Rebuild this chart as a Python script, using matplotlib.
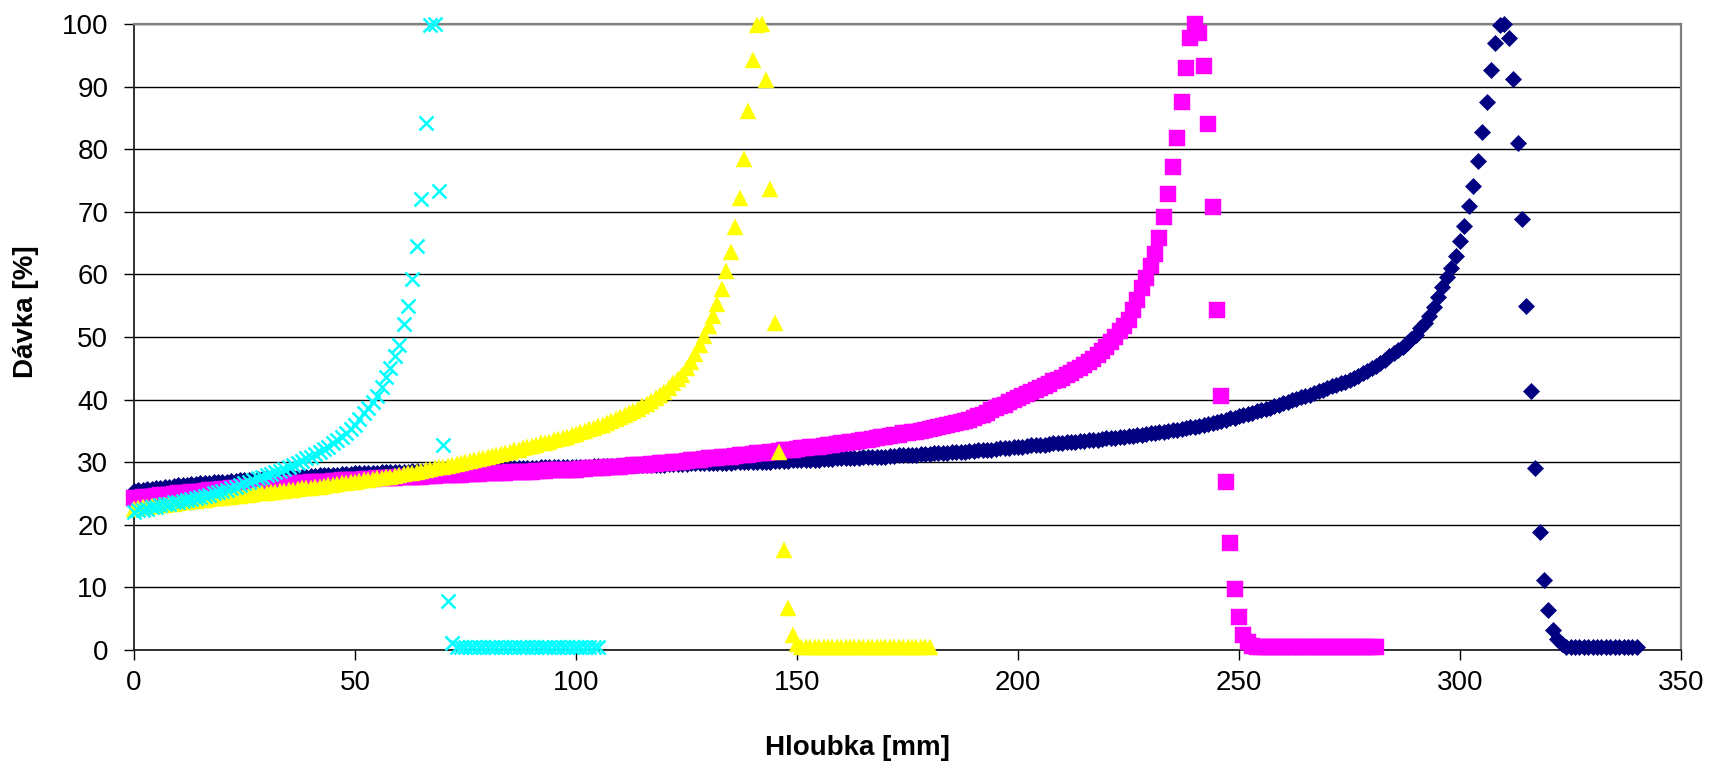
import numpy as np
import matplotlib
matplotlib.use("Agg")
import matplotlib.pyplot as plt

# ---------------- data (dose [%] every 1 mm of depth) -------------
depth_step_mm = 1.0

navy_dose = [
    25.4, 25.5, 25.6, 25.7, 25.7, 25.8, 25.9, 26.0, 26.1, 26.2, 26.3,
    26.3, 26.4, 26.5, 26.5, 26.6, 26.7, 26.7, 26.8, 26.8, 26.9,
    26.9, 27.0, 27.0, 27.1, 27.1, 27.2, 27.2, 27.3, 27.3, 27.4,
    27.4, 27.5, 27.5, 27.5, 27.6, 27.6, 27.7, 27.7, 27.7, 27.8,
    27.8, 27.9, 27.9, 27.9, 28.0, 28.0, 28.1, 28.1, 28.1, 28.2,
    28.2, 28.2, 28.3, 28.3, 28.3, 28.4, 28.4, 28.4, 28.5, 28.5,
    28.5, 28.5, 28.6, 28.6, 28.6, 28.6, 28.7, 28.7, 28.7, 28.7,
    28.7, 28.8, 28.8, 28.8, 28.8, 28.8, 28.9, 28.9, 28.9, 28.9,
    28.9, 29.0, 29.0, 29.0, 29.0, 29.0, 29.1, 29.1, 29.1, 29.1,
    29.1, 29.2, 29.2, 29.2, 29.2, 29.2, 29.3, 29.3, 29.3, 29.3,
    29.3, 29.3, 29.3, 29.4, 29.4, 29.4, 29.4, 29.4, 29.4, 29.4,
    29.5, 29.5, 29.5, 29.5, 29.5, 29.6, 29.6, 29.6, 29.6, 29.6,
    29.7, 29.7, 29.7, 29.7, 29.7, 29.8, 29.8, 29.8, 29.8, 29.8,
    29.9, 29.9, 29.9, 29.9, 29.9, 30.0, 30.0, 30.0, 30.0, 30.0,
    30.1, 30.1, 30.1, 30.1, 30.2, 30.2, 30.2, 30.2, 30.3, 30.3,
    30.3, 30.3, 30.4, 30.4, 30.4, 30.5, 30.5, 30.5, 30.6, 30.6,
    30.6, 30.7, 30.7, 30.7, 30.8, 30.8, 30.8, 30.9, 30.9, 30.9,
    31.0, 31.0, 31.1, 31.1, 31.1, 31.2, 31.2, 31.3, 31.3, 31.3,
    31.4, 31.4, 31.5, 31.5, 31.6, 31.6, 31.7, 31.7, 31.8, 31.8,
    31.9, 31.9, 32.0, 32.0, 32.1, 32.2, 32.2, 32.3, 32.4, 32.5,
    32.5, 32.6, 32.7, 32.7, 32.8, 32.8, 32.9, 33.0, 33.0, 33.1,
    33.2, 33.2, 33.3, 33.4, 33.4, 33.5, 33.6, 33.6, 33.7, 33.8,
    33.9, 33.9, 34.0, 34.1, 34.2, 34.2, 34.3, 34.4, 34.5, 34.6,
    34.7, 34.8, 34.9, 35.0, 35.1, 35.2, 35.3, 35.4, 35.6, 35.7,
    35.8, 36.0, 36.1, 36.3, 36.5, 36.6, 36.8, 37.0, 37.1, 37.3,
    37.5, 37.7, 37.9, 38.1, 38.3, 38.5, 38.7, 39.0, 39.2, 39.4,
    39.6, 39.9, 40.1, 40.4, 40.6, 40.8, 41.1, 41.3, 41.6, 41.8,
    42.1, 42.3, 42.6, 42.8, 43.1, 43.4, 43.8, 44.2, 44.6, 45.0,
    45.4, 45.9, 46.4, 46.9, 47.4, 47.9, 48.4, 49.0, 49.6, 50.3,
    51.4, 52.3, 53.4, 54.8, 56.4, 58.0, 59.6, 61.1, 62.9, 65.4,
    67.8, 70.9, 74.2, 78.1, 82.8, 87.5, 92.7, 96.9, 99.8, 100.0,
    97.7, 91.2, 81.0, 68.8, 55.0, 41.4, 29.0, 18.8, 11.2, 6.4,
    3.2, 1.8, 1.0, 0.5, 0.4, 0.4, 0.4, 0.4, 0.4, 0.4,
    0.4, 0.4, 0.4, 0.4, 0.4, 0.4, 0.4, 0.4, 0.4, 0.4,
]

magenta_dose = [
    24.2, 24.3, 24.4, 24.4, 24.5, 24.6, 24.7, 24.8, 24.8, 24.9, 25.0,
    25.1, 25.1, 25.2, 25.3, 25.3, 25.4, 25.5, 25.5, 25.6, 25.7,
    25.7, 25.8, 25.8, 25.9, 26.0, 26.0, 26.1, 26.1, 26.2, 26.3,
    26.3, 26.4, 26.4, 26.5, 26.5, 26.6, 26.6, 26.7, 26.7, 26.8,
    26.8, 26.8, 26.9, 26.9, 27.0, 27.0, 27.1, 27.1, 27.1, 27.2,
    27.2, 27.3, 27.3, 27.3, 27.4, 27.4, 27.5, 27.5, 27.5, 27.6,
    27.6, 27.6, 27.7, 27.7, 27.7, 27.8, 27.8, 27.8, 27.9, 27.9,
    27.9, 28.0, 28.0, 28.0, 28.1, 28.1, 28.1, 28.1, 28.2, 28.2,
    28.2, 28.3, 28.3, 28.3, 28.4, 28.4, 28.4, 28.5, 28.5, 28.5,
    28.6, 28.6, 28.6, 28.7, 28.7, 28.7, 28.7, 28.8, 28.8, 28.8,
    28.9, 28.9, 29.0, 29.0, 29.1, 29.1, 29.2, 29.2, 29.3, 29.3,
    29.4, 29.4, 29.5, 29.5, 29.6, 29.6, 29.7, 29.7, 29.8, 29.9,
    29.9, 30.0, 30.1, 30.1, 30.2, 30.3, 30.3, 30.4, 30.5, 30.6,
    30.6, 30.7, 30.8, 30.8, 30.9, 31.0, 31.1, 31.1, 31.2, 31.3,
    31.4, 31.5, 31.5, 31.6, 31.7, 31.8, 31.9, 31.9, 32.0, 32.1,
    32.2, 32.3, 32.4, 32.5, 32.5, 32.6, 32.7, 32.8, 32.9, 33.0,
    33.1, 33.2, 33.3, 33.4, 33.5, 33.6, 33.7, 33.8, 34.0, 34.1,
    34.2, 34.3, 34.4, 34.6, 34.7, 34.8, 34.9, 35.0, 35.2, 35.3,
    35.5, 35.6, 35.8, 35.9, 36.1, 36.3, 36.4, 36.6, 36.8, 37.0,
    37.3, 37.6, 37.9, 38.3, 38.6, 38.9, 39.2, 39.6, 39.9, 40.2,
    40.5, 40.9, 41.2, 41.6, 41.9, 42.2, 42.5, 42.9, 43.2, 43.5,
    43.9, 44.3, 44.7, 45.1, 45.5, 46.0, 46.5, 47.1, 47.7, 48.4,
    49.2, 50.0, 50.9, 51.8, 52.7, 54.3, 55.9, 57.8, 59.4, 61.3,
    63.3, 65.8, 69.1, 72.8, 77.1, 81.8, 87.6, 93.0, 97.7, 100.0,
    98.5, 93.3, 84.0, 70.8, 54.3, 40.5, 26.8, 17.1, 9.7, 5.2,
    2.4, 1.2, 0.7, 0.4, 0.4, 0.4, 0.4, 0.4, 0.4, 0.4,
    0.4, 0.4, 0.4, 0.4, 0.4, 0.4, 0.4, 0.4, 0.4, 0.4,
    0.4, 0.4, 0.4, 0.4, 0.4, 0.4, 0.4, 0.4, 0.4, 0.4, 0.4,
]

yellow_dose = [
    22.6, 22.7, 22.8, 22.9, 23.0, 23.0, 23.1, 23.2, 23.3, 23.4, 23.5,
    23.6, 23.7, 23.8, 23.8, 23.9, 24.0, 24.1, 24.2, 24.2, 24.3,
    24.4, 24.5, 24.6, 24.6, 24.7, 24.8, 24.9, 25.0, 25.0, 25.1,
    25.2, 25.3, 25.4, 25.4, 25.5, 25.6, 25.7, 25.8, 25.8, 25.9,
    26.0, 26.1, 26.2, 26.3, 26.4, 26.5, 26.6, 26.7, 26.8, 26.9,
    27.0, 27.1, 27.2, 27.3, 27.4, 27.5, 27.6, 27.7, 27.8, 28.0,
    28.1, 28.2, 28.3, 28.5, 28.6, 28.7, 28.9, 29.0, 29.2, 29.3,
    29.4, 29.6, 29.7, 29.9, 30.0, 30.2, 30.3, 30.5, 30.6, 30.8,
    31.0, 31.2, 31.3, 31.5, 31.7, 31.9, 32.0, 32.2, 32.4, 32.6,
    32.8, 33.0, 33.1, 33.3, 33.5, 33.7, 33.9, 34.1, 34.3, 34.5,
    34.8, 35.0, 35.3, 35.5, 35.8, 36.0, 36.3, 36.6, 36.9, 37.2,
    37.5, 37.8, 38.2, 38.5, 38.9, 39.3, 39.7, 40.2, 40.7, 41.2,
    41.9, 42.6, 43.3, 44.0, 45.0, 46.0, 47.3, 48.8, 50.2, 51.8,
    53.4, 55.3, 57.6, 60.5, 63.6, 67.5, 72.2, 78.4, 86.1, 94.2,
    99.8, 100.0, 91.1, 73.6, 52.2, 31.7, 16.0, 6.7, 2.4, 0.9,
    0.4, 0.4, 0.4, 0.4, 0.4, 0.4, 0.4, 0.4, 0.4, 0.4,
    0.4, 0.4, 0.4, 0.4, 0.4, 0.4, 0.4, 0.4, 0.4, 0.4,
    0.4, 0.4, 0.4, 0.4, 0.4, 0.4, 0.4, 0.4, 0.4, 0.4,
]

cyan_dose = [
    22.1, 22.3, 22.4, 22.6, 22.8, 22.9, 23.1, 23.3, 23.4, 23.6, 23.7,
    23.8, 24.0, 24.1, 24.2, 24.4, 24.6, 24.8, 25.0, 25.2, 25.4,
    25.6, 25.9, 26.1, 26.4, 26.6, 26.9, 27.2, 27.4, 27.7, 27.9,
    28.1, 28.4, 28.6, 28.9, 29.2, 29.5, 29.9, 30.2, 30.6, 30.9,
    31.3, 31.7, 32.1, 32.5, 33.0, 33.5, 34.0, 34.6, 35.3, 35.9,
    36.9, 37.8, 38.7, 39.6, 40.6, 42.0, 43.6, 45.0, 46.9, 48.7,
    52.0, 55.0, 59.2, 64.6, 72.0, 84.2, 99.8, 100.0, 73.4, 32.7,
    7.8, 1.1,
    0.5, 0.5, 0.5, 0.5, 0.5, 0.5, 0.5, 0.5, 0.5, 0.5, 0.5,
    0.5, 0.5, 0.5, 0.5, 0.5, 0.5, 0.5, 0.5, 0.5, 0.5, 0.5,
    0.5, 0.5, 0.5, 0.5, 0.5, 0.5, 0.5, 0.5, 0.5, 0.5, 0.5,
]

x_ticks = [0, 50, 100, 150, 200, 250, 300, 350]
y_ticks = [0, 10, 20, 30, 40, 50, 60, 70, 80, 90, 100]
x_label = "Hloubka [mm]"
y_label = "Dávka [%]"

# ---------------- figure ----------------
plt.rcParams['font.family'] = ['Liberation Sans', 'DejaVu Sans']

fig = plt.figure(figsize=(17.11, 7.62), dpi=100)
ax = fig.add_axes([0.0783, 0.1470, 0.9042, 0.8215])

series = [
    (navy_dose,    dict(marker='D', ms=8.2, color='#000080', mec='#000080', mew=0.5)),
    (magenta_dose, dict(marker='s', ms=11.0, color='#FF00FF', mec='#FF00FF', mew=0.3)),
    (yellow_dose,  dict(marker='^', ms=11.0, color='#FFFF00', mec='#FFFF00', mew=0.3)),
    (cyan_dose,    dict(marker='x', ms=9.6, color='#00FFFF', mec='#00FFFF', mew=1.8)),
]
for i, (dose, style) in enumerate(series):
    depth = np.arange(len(dose)) * depth_step_mm
    ax.plot(depth, dose, linestyle='none', clip_on=False, zorder=3 + i, **style)

ax.set_xlim(0, 350)
ax.set_ylim(0, 100)
ax.set_xticks(x_ticks)
ax.set_yticks(y_ticks)
ax.tick_params(axis='both', direction='out', length=7.5, width=1.0, color='black',
               labelsize=20, labelcolor='black')
ax.tick_params(axis='y', pad=11)
ax.tick_params(axis='x', pad=7)

ax.yaxis.grid(True, color='black', linewidth=1.0, zorder=0)
ax.xaxis.grid(False)
ax.set_axisbelow(True)

for side in ('left', 'bottom'):
    ax.spines[side].set_color('#222222')
    ax.spines[side].set_linewidth(1.3)
for side in ('top', 'right'):
    ax.spines[side].set_color('#808080')
    ax.spines[side].set_linewidth(1.6)

fig.text(26 / 1711, 1 - 311.5 / 762, y_label, rotation=90, ha='center', va='center',
         fontsize=20, fontweight='bold')
fig.text(0.501, 1 - 755 / 762, x_label, ha='center', va='baseline',
         fontsize=20, fontweight='bold')

fig.savefig('out.png', dpi=100)
